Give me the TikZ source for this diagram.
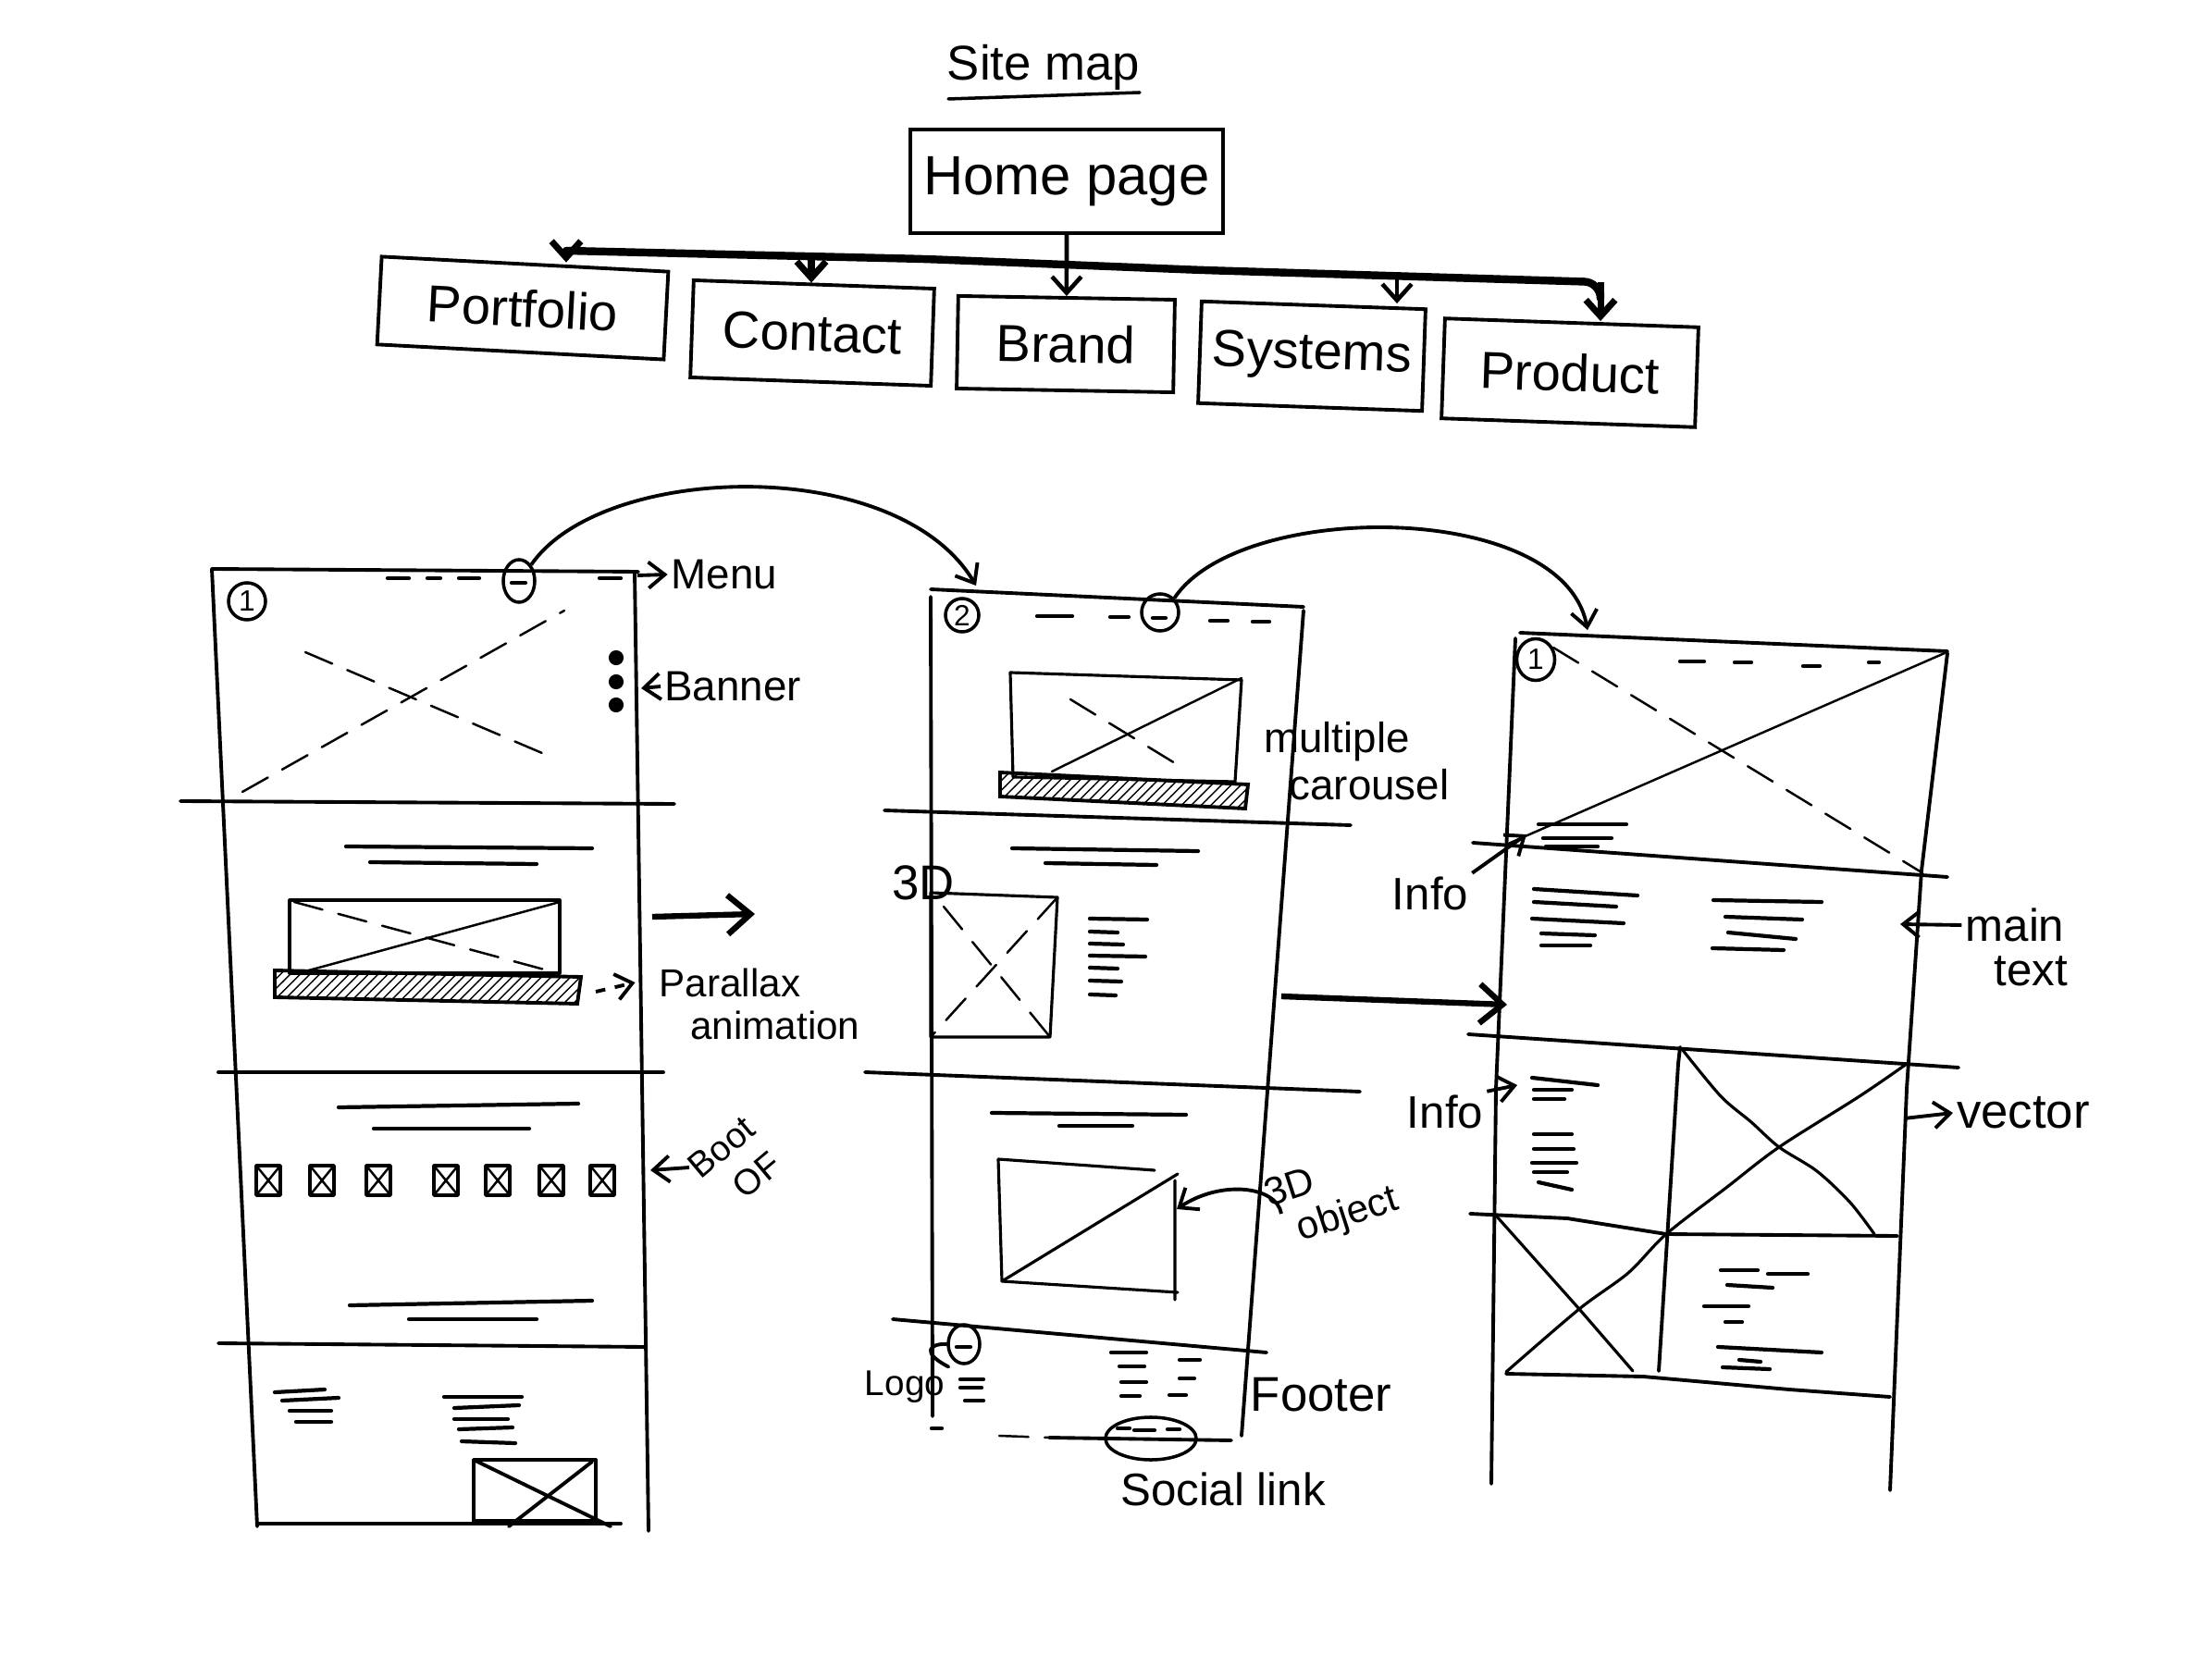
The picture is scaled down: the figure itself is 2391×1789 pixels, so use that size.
\documentclass[tikz,border=0pt]{standalone}
\usepackage{fontspec}
\setmainfont{Liberation Sans}
\usetikzlibrary{arrows.meta,patterns,shapes.geometric}
\begin{document}
\begin{tikzpicture}[x=0.01cm,y=-0.01cm,
  pen/.style={line width=1.1pt,line cap=round,line join=round},
  fine/.style={line width=0.7pt,line cap=round},
  dashy/.style={line width=0.7pt,line cap=round,dash pattern=on 9pt off 5pt},
  tl/.style={line width=1.2pt,line cap=round},
  mapbox/.style={draw,line width=1.1pt,inner sep=0pt,font=\fontsize{16}{20}\selectfont},
  note/.style={inner sep=1pt,font=\fontsize{13}{16}\selectfont},
  bignote/.style={inner sep=1pt,font=\fontsize{15}{18}\selectfont},
  arr/.style={line width=1.1pt,-{Straight Barb[length=5pt,width=8pt]}},
  bigarr/.style={line width=1.8pt,-{Straight Barb[length=7pt,width=12pt]}},
  busline/.style={line width=2.4pt,line cap=round,line join=round},
  busarr/.style={line width=2pt,-{Straight Barb[length=5pt,width=9pt]}},
  hatch/.style={draw,line width=1.1pt,pattern=north east lines},
  icon/.style={draw,line width=1pt,inner sep=0pt,font=\fontsize{9}{10}\selectfont},
]
\useasboundingbox (0,0) rectangle (2391,1789);

%% ---------------- site map ----------------
\node[bignote] (sitemap) at (1128,73) {Site map};
\draw[fine,line width=1pt] (1025,107) -- (1232,100);
\node[mapbox,minimum width=3.38cm,minimum height=1.12cm,font=\fontsize{17}{20}\selectfont] (home) at (1153,196) {Home page};
\node[mapbox,minimum width=3.1cm,minimum height=0.95cm,rotate=-3] (portfolio) at (565,333) {Portfolio};
\node[mapbox,minimum width=2.6cm,minimum height=1.05cm,rotate=-2] (contact) at (878,360) {Contact};
\node[mapbox,minimum width=2.34cm,minimum height=1.0cm,rotate=-1] (brand) at (1152,372) {Brand};
\node[mapbox,minimum width=2.42cm,minimum height=1.1cm,rotate=-2] (systems) at (1418,385) {Systems};
\node[mapbox,minimum width=2.74cm,minimum height=1.08cm,rotate=-2] (product) at (1697,403) {Product};

\coordinate (b0) at (612,271);
\coordinate (b1) at (877,276);
\coordinate (b3) at (1510,297);
\coordinate (b4) at (1730,305);
\draw[busline,rounded corners=5pt] (b0) -- (1000,280) -- (1300,292) -- (b4) -- ++(0,12);
\draw[busarr] (b0) -- (b0 |- portfolio.north);
\draw[busarr] (b1) -- (b1 |- contact.north);
\draw[busarr,line width=1.3pt] (home.south) -- (brand.north);
\draw[busarr,line width=1.3pt] (b3) -- (b3 |- systems.north);
\draw[busarr] (b4) -- (b4 |- product.north);

%% ---------------- page 1 ----------------
\draw[pen] (229,615) -- (690,618);
\draw[pen] (229,615) -- (278,1650);
\draw[pen] (686,618) -- (701,1655);
\draw[pen] (278,1647) -- (671,1647);
\draw[pen] (195,866) -- (729,869);
\draw[pen] (236,1159) -- (717,1159);
\draw[pen] (236,1452) -- (698,1456);

\node[icon,circle,minimum size=0.4cm] (num1) at (267,650) {1};
\foreach \a/\b in {419/442,462/476,496/518,648/671}{\draw[tl] (\a,625) -- (\b,625);}
\node[icon,ellipse,minimum width=0.34cm,minimum height=0.46cm] (m1) at (561,628) {};
\draw[tl] (553,630) -- (568,630);
\fill (666,711) circle (2.3pt) (666,737) circle (2.3pt) (666,762) circle (2.3pt);
\draw[dashy] (262,856) -- (610,660);
\draw[dashy] (330,705) -- (600,820);

\node[note] (menu) at (783,621) {Menu};
\draw[arr] (689,622) -- (menu.west);
\node[note] (banner) at (792,742) {Banner};
\coordinate (bn) at (693,744);
\draw[arr] (banner.west) -- (bn);

\draw[tl] (374,915) -- (640,917);
\draw[tl] (400,932) -- (580,934);
\draw[pen,line width=0.9pt] (313,973) rectangle (605,1052);
\draw[dashy] (318,975) -- (603,1052);
\draw[fine] (605,975) -- (330,1050);
\draw[hatch] (297,1049) -- (628,1056) -- (624,1085) -- (297,1078) -- cycle;
\node[note,font=\fontsize{12}{14}\selectfont] (parallax) at (789,1062) {Parallax};
\node[note,font=\fontsize{12}{14}\selectfont] (anim) at (838,1108) {animation};
\coordinate (px) at (644,1072);
\draw[arr,dashed] (px) -- ([xshift=-0.22cm]parallax.west);
\coordinate (r1) at (705,991);
\coordinate (r1e) at (816,988);
\draw[bigarr] (r1) -- (r1e);

\draw[tl] (366,1197) -- (625,1193);
\draw[tl] (404,1220) -- (572,1220);
\foreach \x in {290,348,409,482,538,596,651}{
  \draw[pen,line width=1pt] (\x-13,1260) rectangle (\x+13,1292);
  \draw[fine] (\x-13,1260) -- (\x+13,1292) (\x+13,1260) -- (\x-13,1292);
}
\node[rotate=40,inner sep=0pt,font=\fontsize{11}{12}\selectfont] (boot) at (780,1240) {Boot};
\node[rotate=40,inner sep=0pt,font=\fontsize{11}{12}\selectfont] (of) at (818,1270) {OF};
\coordinate (bo) at (703,1265);
\draw[arr] (745,1262) -- (bo);
\draw[tl] (378,1411) -- (640,1406);
\draw[tl] (442,1426) -- (580,1426);
\draw[tl] (297,1505) -- (351,1502);
\draw[tl] (305,1514) -- (366,1511);
\draw[tl] (313,1525) -- (358,1525);
\draw[tl] (320,1537) -- (358,1537);
\draw[tl] (480,1510) -- (564,1510);
\draw[tl] (491,1522) -- (561,1519);
\draw[tl] (491,1534) -- (549,1534);
\draw[tl] (496,1545) -- (554,1543);
\draw[tl] (499,1558) -- (557,1560);
\draw[pen] (512,1578) rectangle (644,1644);
\draw[pen] (512,1578) -- (660,1650) (640,1580) -- (550,1650);

%% curved arrow 1
\coordinate (p2a) at (1055,633);
\draw[arr] (m1.north east) .. controls (650,500) and (970,490) .. (p2a);

%% ---------------- page 2 ----------------
\draw[pen] (1006,637) -- (1409,656);
\draw[pen] (1006,645) -- (1008,1531);
\draw[pen] (1409,660) -- (1342,1552);
\draw[pen] (1134,1554) -- (1331,1557);
\draw[tl] (1007,1544) -- (1018,1544);
\draw[dashy] (1080,1552) -- (1134,1554);
\node[icon,circle,minimum size=0.36cm] (num2) at (1040,665) {2};
\foreach \a/\b/\y in {1121/1159/666,1200/1220/667,1308/1327/671,1354/1372/672}{\draw[tl] (\a,\y) -- (\b,\y);}
\node[icon,circle,minimum size=0.4cm] (m2) at (1254,662) {};
\draw[tl] (1246,668) -- (1260,668);

\draw[pen,line width=0.9pt] (1092,727) -- (1342,735) -- (1335,845) -- (1095,840) -- cycle;
\draw[fine] (1137,834) -- (1342,733);
\draw[dashy] (1157,756) -- (1275,828);
\draw[hatch] (1081,835) -- (1349,848) -- (1346,874) -- (1081,861) -- cycle;
\node[note] (multiple) at (1445,802) {multiple};
\node[note] (carousel) at (1480,848) {carousel};
\draw[pen] (956,876) -- (1460,892);
\draw[tl] (1094,917) -- (1295,920);
\draw[tl] (1130,933) -- (1250,935);
\node[note,font=\fontsize{15}{18}\selectfont] (l3d) at (998,954) {3D};
\draw[pen,line width=0.9pt] (1006,965) -- (1143,970) -- (1135,1121) -- (1006,1121) -- cycle;
\draw[dashy] (1143,970) -- (1006,1121);
\draw[dashy] (1020,980) -- (1135,1121);
\foreach \y/\l in {993/62,1007/30,1020/36,1033/60,1046/30,1060/34,1075/28}{\draw[tl] (1178,\y) -- ++(\l,1);}
\coordinate (r2) at (1385,1077);
\coordinate (r2e) at (1629,1086);
\draw[bigarr] (r2) -- (r2e);

\draw[pen] (935,1159) -- (1470,1180);
\draw[tl] (1072,1203) -- (1282,1205);
\draw[tl] (1145,1217) -- (1224,1217);
\draw[pen,line width=0.9pt] (1079,1253) -- (1248,1265) (1270,1276) -- (1270,1405) (1083,1385) -- (1273,1397) (1079,1253) -- (1083,1385);
\draw[fine,line width=0.9pt] (1083,1385) -- (1273,1269);
\node[note,rotate=18,align=left,font=\fontsize{12}{13}\selectfont] (obj3d) at (1440,1296) {3D\\\hspace*{0.5em}object};
\coordinate (oa) at (1272,1307);
\draw[arr] (1385,1312) .. controls (1380,1282) and (1320,1275) .. (oa);

\draw[pen] (965,1426) -- (1369,1462);
\node[icon,ellipse,minimum width=0.34cm,minimum height=0.42cm] (logoc) at (1042,1453) {};
\draw[tl] (1034,1456) -- (1049,1456);
\node[note,font=\fontsize{11}{13}\selectfont] (logo) at (978,1499) {Logo};
\draw[pen] (logo.north east) .. controls (995,1462) and (1005,1452) .. (logoc.west);
\draw[tl] (1038,1491) -- (1063,1491);
\draw[tl] (1038,1500) -- (1061,1500);
\draw[tl] (1043,1514) -- (1063,1514);
\draw[tl] (1201,1462) -- (1239,1462);
\draw[tl] (1210,1477) -- (1237,1477);
\draw[tl] (1212,1494) -- (1239,1494);
\draw[tl] (1212,1509) -- (1232,1509);
\draw[tl] (1275,1470) -- (1297,1470);
\draw[tl] (1275,1490) -- (1291,1490);
\draw[tl] (1264,1508) -- (1282,1508);
\node[bignote] (footer) at (1428,1508) {Footer};
\node[icon,ellipse,minimum width=0.98cm,minimum height=0.46cm] (social) at (1244,1555) {};
\draw[tl] (1208,1544) -- (1221,1544) (1226,1546) -- (1248,1546) (1262,1545) -- (1275,1545);
\node[note,font=\fontsize{14}{16}\selectfont] (sociallink) at (1322,1610) {Social link};

%% curved arrow 2
\coordinate (p3a) at (1716,681);
\draw[arr] (m2.north east) .. controls (1340,540) and (1690,540) .. (p3a);

%% ---------------- page 3 ----------------
\draw[pen] (1643,684) -- (2105,704);
\draw[pen] (1638,690) -- (1617,1177) -- (1612,1604);
\draw[pen] (2105,706) -- (2077,941) -- (2061,1177) -- (2043,1611);
\node[icon,ellipse,minimum width=0.41cm,minimum height=0.45cm] (num3) at (1660,713) {1};
\foreach \a/\b/\y in {1816/1842/715,1875/1893/716,1949/1967/720,2020/2031/716}{\draw[tl] (\a,\y) -- (\b,\y);}
\draw[dashy] (1679,700) -- (2077,943);
\draw[fine] (2102,706) -- (1628,913);
\draw[pen] (1592,911) -- (2105,948);
\draw[tl] (1663,891) -- (1758,891);
\draw[tl] (1668,906) -- (1742,906);
\draw[tl] (1671,915) -- (1727,915);
\node[note,font=\fontsize{14}{16}\selectfont] (info1) at (1546,966) {Info};
\coordinate (i1) at (1650,902);
\draw[arr] (info1.north east) -- (i1);
\draw[tl] (1658,961) -- (1770,968);
\draw[tl] (1658,975) -- (1747,980);
\draw[tl] (1656,993) -- (1755,998);
\draw[tl] (1666,1009) -- (1724,1011);
\draw[tl] (1666,1022) -- (1719,1022);
\draw[tl] (1852,973) -- (1969,975);
\draw[tl] (1865,991) -- (1948,994);
\draw[tl] (1868,1008) -- (1941,1015);
\draw[tl] (1851,1025) -- (1928,1027);
\node[note,font=\fontsize{14}{16}\selectfont] (main) at (2178,1000) {main};
\node[note,font=\fontsize{14}{16}\selectfont] (text) at (2195,1050) {text};
\coordinate (mt) at (2054,999);
\draw[arr] (main.west) -- (mt);

\draw[pen] (1587,1118) -- (2117,1154);
\draw[pen] (1816,1132) -- (1814,1150) -- (1793,1482);
\draw[fine,line width=0.9pt] plot[smooth] coordinates {(1818,1134) (1860,1185) (1893,1213) (1923,1240) (1964,1266) (2000,1300) (2026,1334)};
\draw[fine,line width=0.9pt] plot[smooth] coordinates {(2061,1150) (2010,1185) (1923,1240) (1867,1283) (1801,1334) (1760,1376) (1707,1415) (1628,1483)};
\draw[fine,line width=0.9pt] (1617,1314) -- (1707,1415) -- (1765,1482);
\draw[pen] (1589,1312) -- (1694,1317) -- (1801,1334) -- (2051,1336);
\draw[pen] (1628,1485) -- (1776,1488) -- (1934,1502) -- (2043,1510);
\draw[tl] (1656,1165) -- (1727,1173);
\draw[tl] (1658,1178) -- (1699,1178);
\draw[tl] (1658,1188) -- (1691,1188);
\draw[tl] (1658,1226) -- (1699,1226);
\draw[tl] (1658,1242) -- (1701,1242);
\draw[tl] (1656,1257) -- (1704,1257);
\draw[tl] (1658,1267) -- (1694,1267);
\draw[tl] (1663,1278) -- (1699,1286);
\node[note,font=\fontsize{14}{16}\selectfont] (info2) at (1562,1202) {Info};
\coordinate (i2) at (1640,1173);
\draw[arr] (info2.north east) -- (i2);
\node[note,font=\fontsize{15}{18}\selectfont] (vector) at (2187,1203) {vector};
\coordinate (vs) at (2058,1209);
\draw[arr] (vs) -- (vector.west);
\draw[tl] (1860,1373) -- (1900,1373);
\draw[tl] (1911,1377) -- (1954,1377);
\draw[tl] (1867,1389) -- (1916,1392);
\draw[tl] (1842,1412) -- (1890,1412);
\draw[tl] (1865,1429) -- (1883,1429);
\draw[tl] (1857,1456) -- (1969,1462);
\draw[tl] (1880,1470) -- (1903,1472);
\draw[tl] (1862,1478) -- (1913,1480);
\end{tikzpicture}
\end{document}
